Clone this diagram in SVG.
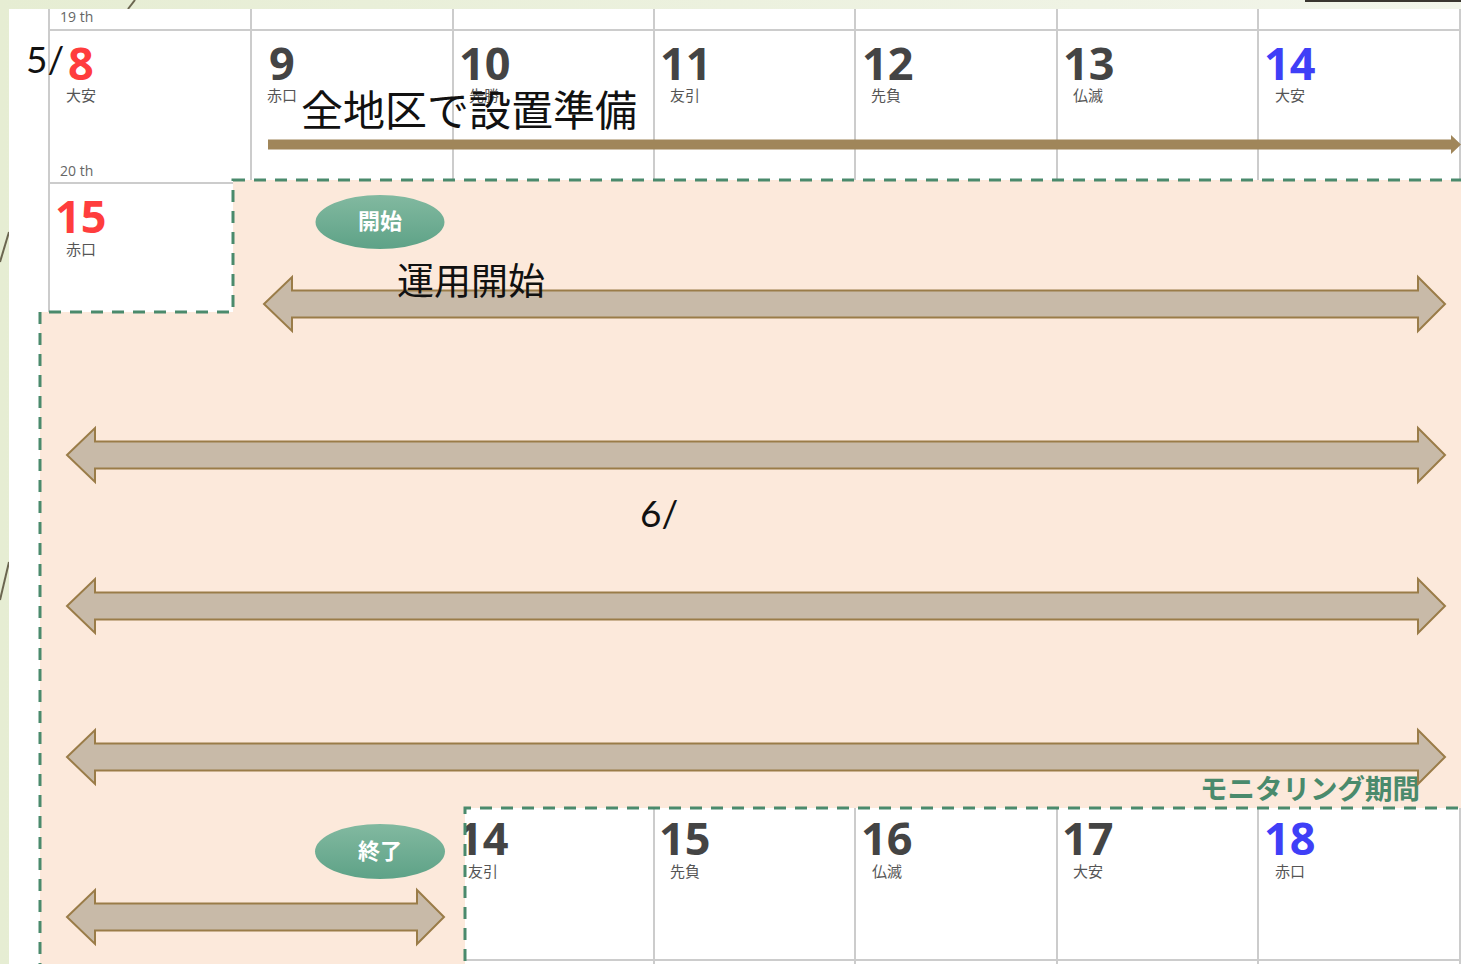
<svg xmlns="http://www.w3.org/2000/svg" width="1461" height="964" viewBox="0 0 1461 964">
<style>
.grid{stroke:#cccccc;stroke-width:2;fill:none}
.num{font-family:"Open Sans","Noto Sans",sans-serif;font-weight:700;font-size:45px;fill:#444444}
.red{fill:#ff3d3d}
.blue{fill:#3f3ff7}
.rk{font-family:"Noto Sans CJK JP","Noto Sans",sans-serif;font-size:15px;fill:#555555}
.wk{font-family:"Open Sans","Noto Sans",sans-serif;font-size:14px;fill:#666666}
.big{font-family:"Noto Sans CJK JP",sans-serif;fill:#111111}
.mon{font-family:"Lato","Noto Sans",sans-serif;font-weight:400;font-size:37px;fill:#111111}
.arr{fill:#c8baa8;stroke:#9a7c48;stroke-width:2}
.pill{fill:url(#pg)}
.pt{font-family:"Noto Sans CJK JP",sans-serif;font-weight:700;font-size:22px;fill:#ffffff;text-anchor:middle}
</style>
<defs>
<linearGradient id="pg" x1="0" y1="0" x2="0" y2="1">
<stop offset="0" stop-color="#82b9a0"/>
<stop offset="1" stop-color="#5ea287"/>
</linearGradient>
<linearGradient id="bg" x1="0" y1="0" x2="1" y2="0">
<stop offset="0" stop-color="#e6edd3"/>
<stop offset="1" stop-color="#f2f5ea"/>
</linearGradient>
</defs>
<rect width="1461" height="964" fill="url(#bg)"/>
<rect x="1305" y="0" width="156" height="2" fill="#3a3630"/>
<line x1="128" y1="9" x2="135" y2="0" stroke="#6b6650" stroke-width="2"/>
<line x1="0" y1="262" x2="9" y2="232" stroke="#6b6650" stroke-width="2"/>
<line x1="0" y1="600" x2="9" y2="562" stroke="#6b6650" stroke-width="2"/>
<rect x="9" y="9" width="1452" height="955" fill="#ffffff"/>
<g id="grid">
<line class="grid" x1="49" y1="30" x2="1461" y2="30"/>
<line class="grid" x1="49" y1="183" x2="260" y2="183"/>
<line class="grid" x1="49" y1="9" x2="49" y2="320"/>
<line class="grid" x1="251" y1="9" x2="251" y2="190"/>
<line class="grid" x1="453" y1="9" x2="453" y2="190"/>
<line class="grid" x1="654" y1="9" x2="654" y2="190"/>
<line class="grid" x1="855" y1="9" x2="855" y2="190"/>
<line class="grid" x1="1057" y1="9" x2="1057" y2="190"/>
<line class="grid" x1="1258" y1="9" x2="1258" y2="190"/>
<line class="grid" x1="1460" y1="9" x2="1460" y2="190"/>
<line class="grid" x1="465" y1="960" x2="1461" y2="960"/>
<line class="grid" x1="654" y1="805" x2="654" y2="964"/>
<line class="grid" x1="855" y1="805" x2="855" y2="964"/>
<line class="grid" x1="1057" y1="805" x2="1057" y2="964"/>
<line class="grid" x1="1258" y1="805" x2="1258" y2="964"/>
<line class="grid" x1="1460" y1="805" x2="1460" y2="964"/>
</g>
<g id="week-labels">
<text class="wk" x="60" y="22">19 th</text>
<text class="wk" x="60" y="176">20 th</text>
</g>
<g id="row1">
<text class="num red" x="68" y="80">8</text><text class="rk" x="66" y="101">大安</text>
<text class="num" x="269" y="80">9</text><text class="rk" x="267" y="101">赤口</text>
<text class="num" x="459" y="80">10</text><text class="rk" x="469" y="101">先勝</text>
<text class="num" x="660" y="80">11</text><text class="rk" x="670" y="101">友引</text>
<text class="num" x="862" y="80">12</text><text class="rk" x="871" y="101">先負</text>
<text class="num" x="1063" y="80">13</text><text class="rk" x="1073" y="101">仏滅</text>
<text class="num blue" x="1264" y="80">14</text><text class="rk" x="1275" y="101">大安</text>
</g>
<g id="row2">
<text class="num red" x="55" y="233">15</text><text class="rk" x="66" y="255">赤口</text>
</g>
<g id="row-bottom">
<text class="num" x="457" y="855">14</text><text class="rk" x="468" y="877">友引</text>
<text class="num" x="659" y="855">15</text><text class="rk" x="670" y="877">先負</text>
<text class="num" x="861" y="855">16</text><text class="rk" x="872" y="877">仏滅</text>
<text class="num" x="1062" y="855">17</text><text class="rk" x="1073" y="877">大安</text>
<text class="num blue" x="1264" y="855">18</text><text class="rk" x="1275" y="877">赤口</text>
</g>
<g id="month-5">
<text class="mon" x="26" y="73">5/</text>
</g>
<g id="prep">
<text class="big" x="301" y="126" font-size="42">全地区で設置準備</text>
</g>
<g id="monitoring-period">
<path d="M233,180 H1466 V808 H465 V970 H40 V312 H233 Z" fill="#fce9db" stroke="#4a8a6c" stroke-width="3" stroke-dasharray="12 9"/>
<text x="1200" y="799" font-family="Noto Sans CJK JP, sans-serif" font-weight="700" font-size="27.5" fill="#4a8a6c">モニタリング期間</text>
</g>
<g id="month-6">
<text class="mon" x="640" y="527">6/</text>
</g>
<g id="connectors">
<polygon points="268,139.5 1451,139.5 1451,135 1461,144.5 1451,154 1451,149.5 268,149.5" fill="#a0865a"/>
<polygon class="arr" points="264,304 292,277 292,290.5 1418,290.5 1418,277 1445,304 1418,331 1418,317.5 292,317.5 292,331"/>
<polygon class="arr" points="67,455 95,428 95,441.5 1418,441.5 1418,428 1445,455 1418,482 1418,468.5 95,468.5 95,482"/>
<polygon class="arr" points="67,606 95,579 95,592.5 1418,592.5 1418,579 1445,606 1418,633 1418,619.5 95,619.5 95,633"/>
<polygon class="arr" points="67,757 95,730 95,743.5 1418,743.5 1418,730 1445,757 1418,784 1418,770.5 95,770.5 95,784"/>
<polygon class="arr" points="67,917 95,890 95,903.5 417,903.5 417,890 444,917 417,944 417,930.5 95,930.5 95,944"/>
</g>
<g id="operation">
<text class="big" x="397" y="295" font-size="37">運用開始</text>
</g>
<g id="start">
<ellipse class="pill" cx="380" cy="222" rx="64.5" ry="27"/>
<text class="pt" x="380" y="229">開始</text>
</g>
<g id="end">
<ellipse class="pill" cx="380" cy="851.5" rx="65" ry="27.5"/>
<text class="pt" x="380" y="859">終了</text>
</g>
</svg>
